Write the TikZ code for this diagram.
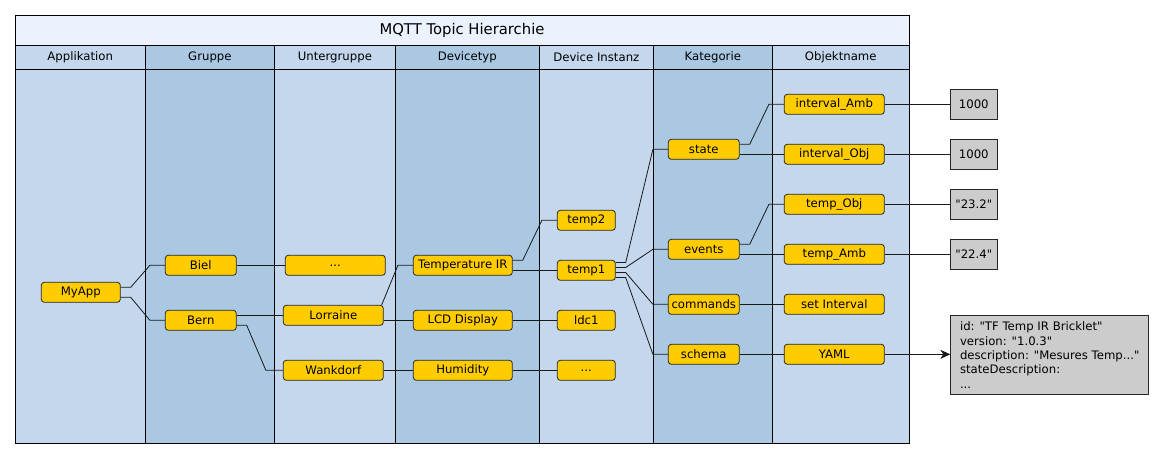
\documentclass[tikz,border=0pt]{standalone}
\usepackage{fontspec}
\setmainfont{DejaVu Sans}
\usetikzlibrary{arrows.meta}
\definecolor{titlebg}{HTML}{EBF2FD}
\definecolor{collight}{HTML}{C4D7EC}
\definecolor{coldark}{HTML}{AAC8E2}
\definecolor{itemyellow}{HTML}{FFCC00}
\definecolor{valgray}{HTML}{CCCCCC}
\newcommand{\qmark}{\textquotedbl}
\begin{document}
\begin{tikzpicture}[x=1pt,y=-1pt,
  every node/.style={font=\fontsize{11.7}{14.3}\selectfont},
  frame/.style={draw=black, line width=0.9pt},
  hdr/.style={inner sep=0pt},
  item/.style={draw=black!85, fill=itemyellow, rounded corners=3pt, minimum height=20pt, inner sep=0pt, line width=0.8pt},
  val/.style={draw=black!85, fill=valgray, minimum width=47pt, minimum height=30pt, inner sep=0pt, line width=0.8pt},
  link/.style={draw=black!90, line width=0.8pt},
  arrowlink/.style={link, -{Stealth[length=10pt,width=9pt,inset=3pt]}}
]
\useasboundingbox (0,0) rectangle (1164,459);
% columns
\path[frame, fill=collight] (15,45) rectangle (145.3,443);
\path[frame, fill=coldark] (145.3,45) rectangle (274.5,443);
\path[frame, fill=collight] (274.5,45) rectangle (395.3,443);
\path[frame, fill=coldark] (395.3,45) rectangle (539.3,443);
\path[frame, fill=collight] (539.3,45) rectangle (653.3,443);
\path[frame, fill=coldark] (653.3,45) rectangle (772.3,443);
\path[frame, fill=collight] (772.3,45) rectangle (909,443);
\draw[frame] (15,69) -- (909,69);
\path[frame, fill=titlebg] (15,15) rectangle (909,45);
% title and headers
\node[hdr, font=\fontsize{14.8}{17}\selectfont] (title) at (462,30.5) {MQTT Topic Hierarchie};
\node[hdr] (h1) at (80.2,57.5) {Applikation};
\node[hdr] (h2) at (209.9,57.5) {Gruppe};
\node[hdr] (h3) at (334.9,57.5) {Untergruppe};
\node[hdr] (h4) at (467.3,57.5) {Devicetyp};
\node[hdr] (h5) at (596.3,57.5) {Device Instanz};
\node[hdr] (h6) at (712.8,57.5) {Kategorie};
\node[hdr] (h7) at (840.7,57.5) {Objektname};
% items
\node[item, minimum width=79pt] (myapp) at (80.8,292.3) {MyApp};
\node[item, minimum width=71pt] (biel) at (200.8,265.3) {Biel};
\node[item, minimum width=71pt] (bern) at (200.8,320.3) {Bern};
\node[item, minimum width=100pt] (dotsa) at (335.3,265.3) {...};
\node[item, minimum width=100pt] (lorraine) at (333.3,315.3) {Lorraine};
\node[item, minimum width=100pt] (wankdorf) at (333.3,370.3) {Wankdorf};
\node[item, minimum width=99pt] (tempir) at (462.8,265.3) {Temperature IR};
\node[item, minimum width=99pt] (lcd) at (462.8,320.3) {LCD Display};
\node[item, minimum width=99pt] (humidity) at (462.8,370.3) {Humidity};
\node[item, minimum width=58pt] (temptwo) at (586.3,220.3) {temp2};
\node[item, minimum width=58pt] (tempone) at (586.3,270.3) {temp1};
\node[item, minimum width=58pt] (ldc) at (586.3,320.3) {ldc1};
\node[item, minimum width=58pt] (dotsb) at (586.3,370.3) {...};
\node[item, minimum width=71pt] (state) at (703.8,149.3) {state};
\node[item, minimum width=71pt] (events) at (703.8,249.3) {events};
\node[item, minimum width=71pt] (commands) at (703.8,304.3) {commands};
\node[item, minimum width=71pt] (schema) at (703.8,354.3) {schema};
\node[item, minimum width=100pt] (intamb) at (834.3,104.3) {interval\_Amb};
\node[item, minimum width=100pt] (intobj) at (834.3,154.3) {interval\_Obj};
\node[item, minimum width=100pt] (tempobj) at (834.3,204.3) {temp\_Obj};
\node[item, minimum width=100pt] (tempamb) at (834.3,254.3) {temp\_Amb};
\node[item, minimum width=100pt] (setint) at (834.3,304.3) {set Interval};
\node[item, minimum width=100pt] (yaml) at (834.3,354.3) {YAML};
% values
\node[val] (va) at (973.8,104.3) {1000};
\node[val] (vb) at (973.8,154.3) {1000};
\node[val] (vc) at (973.8,204.3) {\qmark 23.2\qmark};
\node[val] (vd) at (973.8,254.3) {\qmark 22.4\qmark};
\node[val, anchor=north west, minimum width=198pt, minimum height=79.3pt, align=left, inner xsep=7pt] (schemadata) at (950.3,315) {id: \qmark TF Temp IR Bricklet\qmark\\version: \qmark 1.0.3\qmark\\description: \qmark Mesures Temp...\qmark\\stateDescription:\\...};
% links
\draw[link] ([yshift=5pt]myapp.east) -- ++(10,0) -- ([xshift=-15pt]biel.west) -- (biel.west);
\draw[link] ([yshift=-5pt]myapp.east) -- ++(10,0) -- ([xshift=-15pt]bern.west) -- (bern.west);
\draw[link] (biel.east) -- (dotsa.west);
\draw[link] ([yshift=5pt]bern.east) -- (lorraine.west);
\draw[link] ([yshift=-5pt]bern.east) -- ++(10,0) -- ([xshift=-17pt]wankdorf.west) -- (wankdorf.west);
\draw[link] ([xshift=-2pt]lorraine.north east) -- ([xshift=-15pt]tempir.west) -- (tempir.west);
\draw[link] ([yshift=-5pt]lorraine.east) -- (lcd.west);
\draw[link] (wankdorf.east) -- (humidity.west);
\draw[link] ([yshift=5pt]tempir.east) -- ++(10,0) -- ([xshift=-15pt]temptwo.west) -- (temptwo.west);
\draw[link] ([yshift=-5pt]tempir.east) -- (tempone.west);
\draw[link] (lcd.east) -- (ldc.west);
\draw[link] (humidity.east) -- (dotsb.west);
\draw[link] ([yshift=7.8pt]tempone.east) -- ++(10,0) -- ([xshift=-15pt]state.west) -- (state.west);
\draw[link] ([yshift=2.8pt]tempone.east) -- ++(10,0) -- ([xshift=-15pt]events.west) -- (events.west);
\draw[link] ([yshift=-2.2pt]tempone.east) -- ++(10,0) -- ([xshift=-15pt]commands.west) -- (commands.west);
\draw[link] ([yshift=-7.2pt]tempone.east) -- ++(10,0) -- ([xshift=-15pt]schema.west) -- (schema.west);
\draw[link] ([yshift=5pt]state.east) -- ++(10,0) -- ([xshift=-15pt]intamb.west) -- (intamb.west);
\draw[link] ([yshift=-5pt]state.east) -- (intobj.west);
\draw[link] ([yshift=5pt]events.east) -- ++(10,0) -- ([xshift=-15pt]tempobj.west) -- (tempobj.west);
\draw[link] ([yshift=-5pt]events.east) -- (tempamb.west);
\draw[link] (commands.east) -- (setint.west);
\draw[link] (schema.east) -- (yaml.west);
\draw[link] (intamb.east) -- (va.west);
\draw[link] (intobj.east) -- (vb.west);
\draw[link] (tempobj.east) -- (vc.west);
\draw[link] (tempamb.east) -- (vd.west);
\draw[arrowlink] (yaml.east) -- (yaml.east -| schemadata.west);
\end{tikzpicture}
\end{document}
